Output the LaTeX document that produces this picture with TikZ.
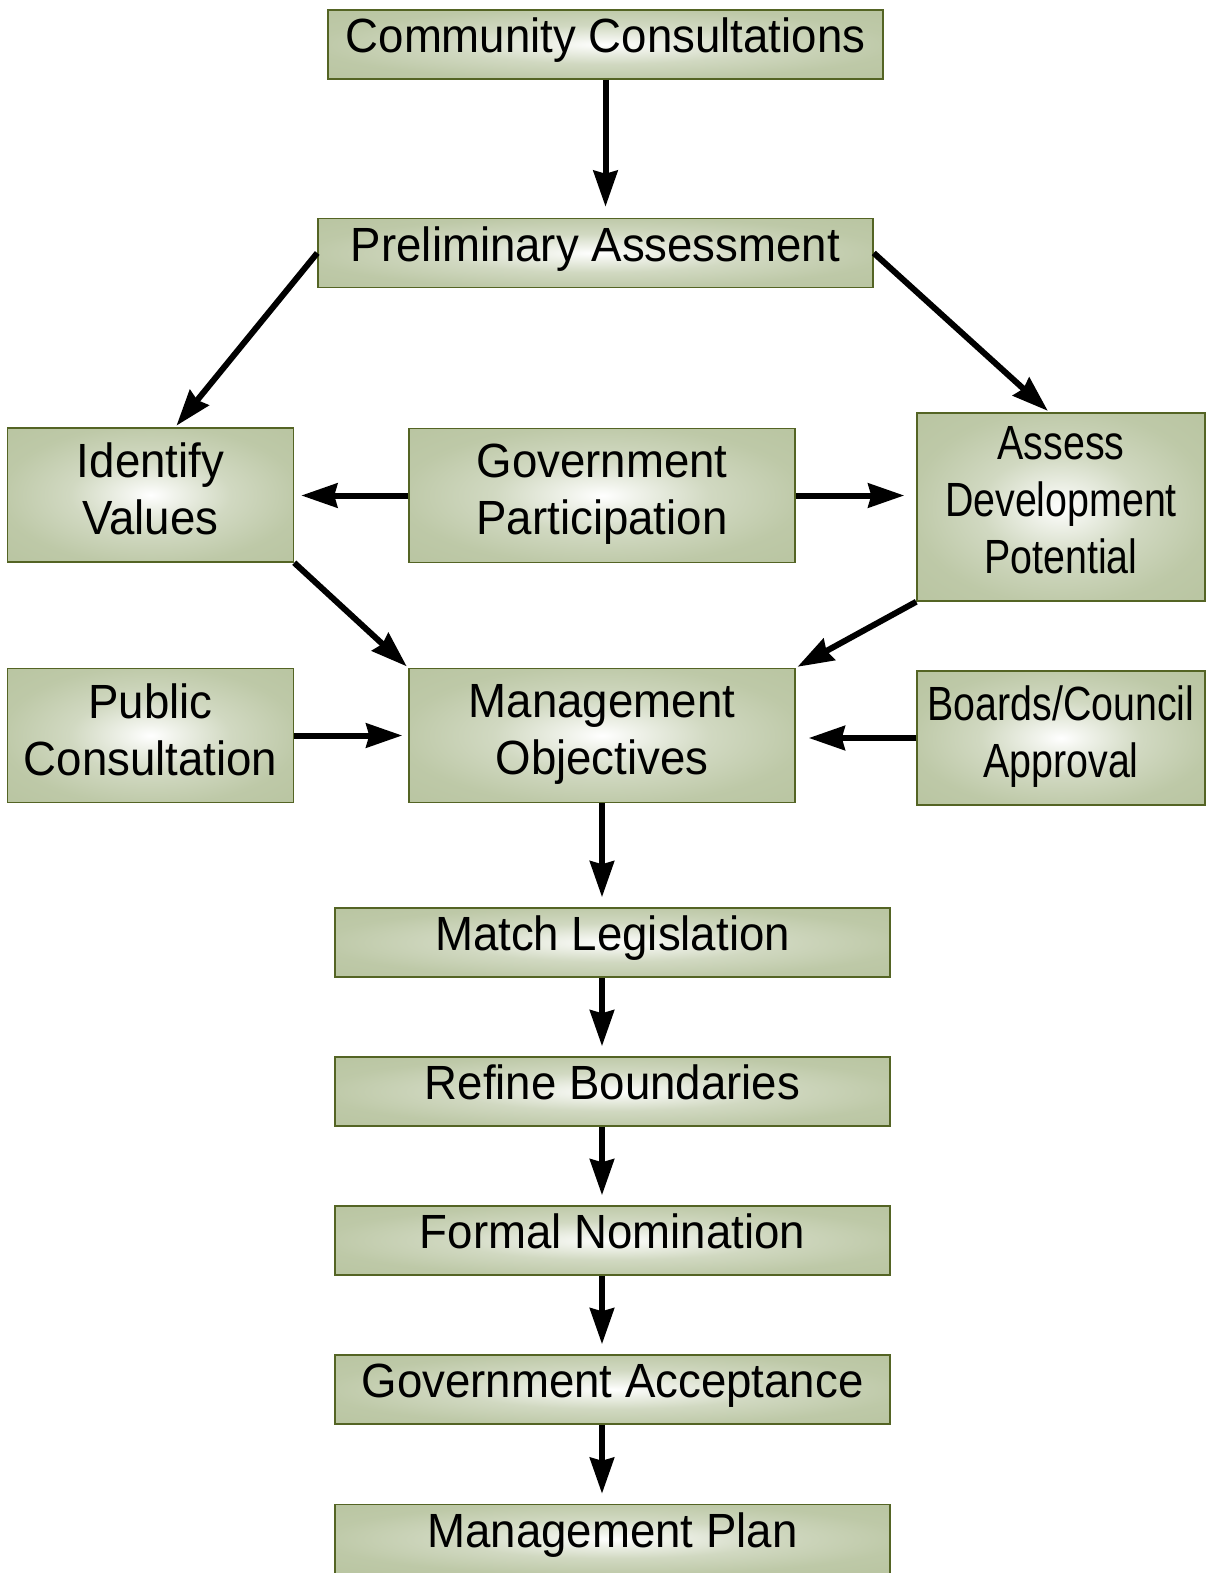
\documentclass[tikz,border=0pt]{standalone}
\usepackage{fontspec}
\setmainfont{Liberation Sans}[FakeStretch=0.95]
\newfontfamily\narrowfont{Liberation Sans}[FakeStretch=0.82]
\usetikzlibrary{arrows.meta,calc}
\definecolor{sage}{RGB}{184,196,160}
\definecolor{boxline}{RGB}{84,100,36}
\pgfdeclareradialshading{glow}{\pgfpoint{0bp}{0bp}}{color(0bp)=(white); color(4bp)=(white!80!sage); color(14bp)=(sage!65!white); color(26bp)=(sage!92!white); color(38bp)=(sage); color(50bp)=(sage)}

\begin{document}
\begin{tikzpicture}
[x=1pt,y=-1pt,
every node/.style={draw=boxline,line width=1.5pt,shading=glow,align=center,inner sep=0pt,
  font=\fontsize{48}{57}\selectfont},
wide/.style={minimum width=555pt,minimum height=69pt,text depth=18pt},
block/.style={minimum width=286pt,minimum height=134pt,text depth=12pt},
narrow/.style={font=\narrowfont\fontsize{48}{57}\selectfont},
edge/.style={->,>={Stealth[length=36pt,width=24pt,inset=3pt]}, line width=6pt}]
\useasboundingbox (0,0) rectangle (1207,1573);
%%
\node (cc) at (605.5,44.5) [wide] {Community Consultations};
\node (pa) at (595.5,253) [wide] {Preliminary Assessment};
%%
\node (iv) at (150.5,495) [block] {Identify\\Values};
\node (gp) at (602,495.5) [block,minimum width=386pt] {Government\\Participation};
\node (adp) at (1061,507) [block,narrow,minimum width=288pt,minimum height=188pt,text depth=14pt] {Assess\\Development\\Potential};
%%
\node (pc) at (150.5,735.5) [block] {Public\\Consultation};
\node (mo) at (602,735.5) [block,minimum width=386pt] {Management\\Objectives};
\node (bca) at (1061,738) [block,narrow,minimum width=288pt] {Boards/Council\\Approval};
%%
\node (ml) at (612.5,942.5) [wide] {Match Legislation};
\node (rb) at (612.5,1091.5) [wide] {Refine Boundaries};
\node (fn) at (612.5,1240.5) [wide] {Formal Nomination};
\node (ga) at (612.5,1389.5) [wide] {Government Acceptance};
\node (mp) at (612.5,1539) [wide] {Management Plan};
%%
\draw[edge,shorten >=11pt] (cc) -- (cc.south |- pa.north);
\draw[edge,shorten >=2pt] (pa.west) -- (iv.70);
\draw[edge,shorten >=2pt] (pa.east) -- (adp.97);
\draw[edge,shorten >=7pt] (gp.west) -- (gp.west -| iv.east);
\draw[edge,shorten >=12pt] (gp.east) -- (gp.east -| adp.west);
\draw[edge,shorten >=2pt] (iv.south east) -- (mo.north west);
\draw[edge,shorten >=2pt] (adp.south west) -- (mo.north east);
\draw[edge,shorten >=6pt] (pc) -- (mo);
\draw[edge,shorten >=13pt] (bca.west) -- (bca.west -| mo.east);
\draw[edge,shorten >=10pt] (mo) -- (mo.south |- ml.north);
%%
\foreach \a/\b in {ml/rb,rb/fn,fn/ga,ga/mp}
  \draw[edge,shorten >=10pt] (\a.south -| mo.south) -- (\b.north -| mo.south);
\end{tikzpicture}
\end{document}
